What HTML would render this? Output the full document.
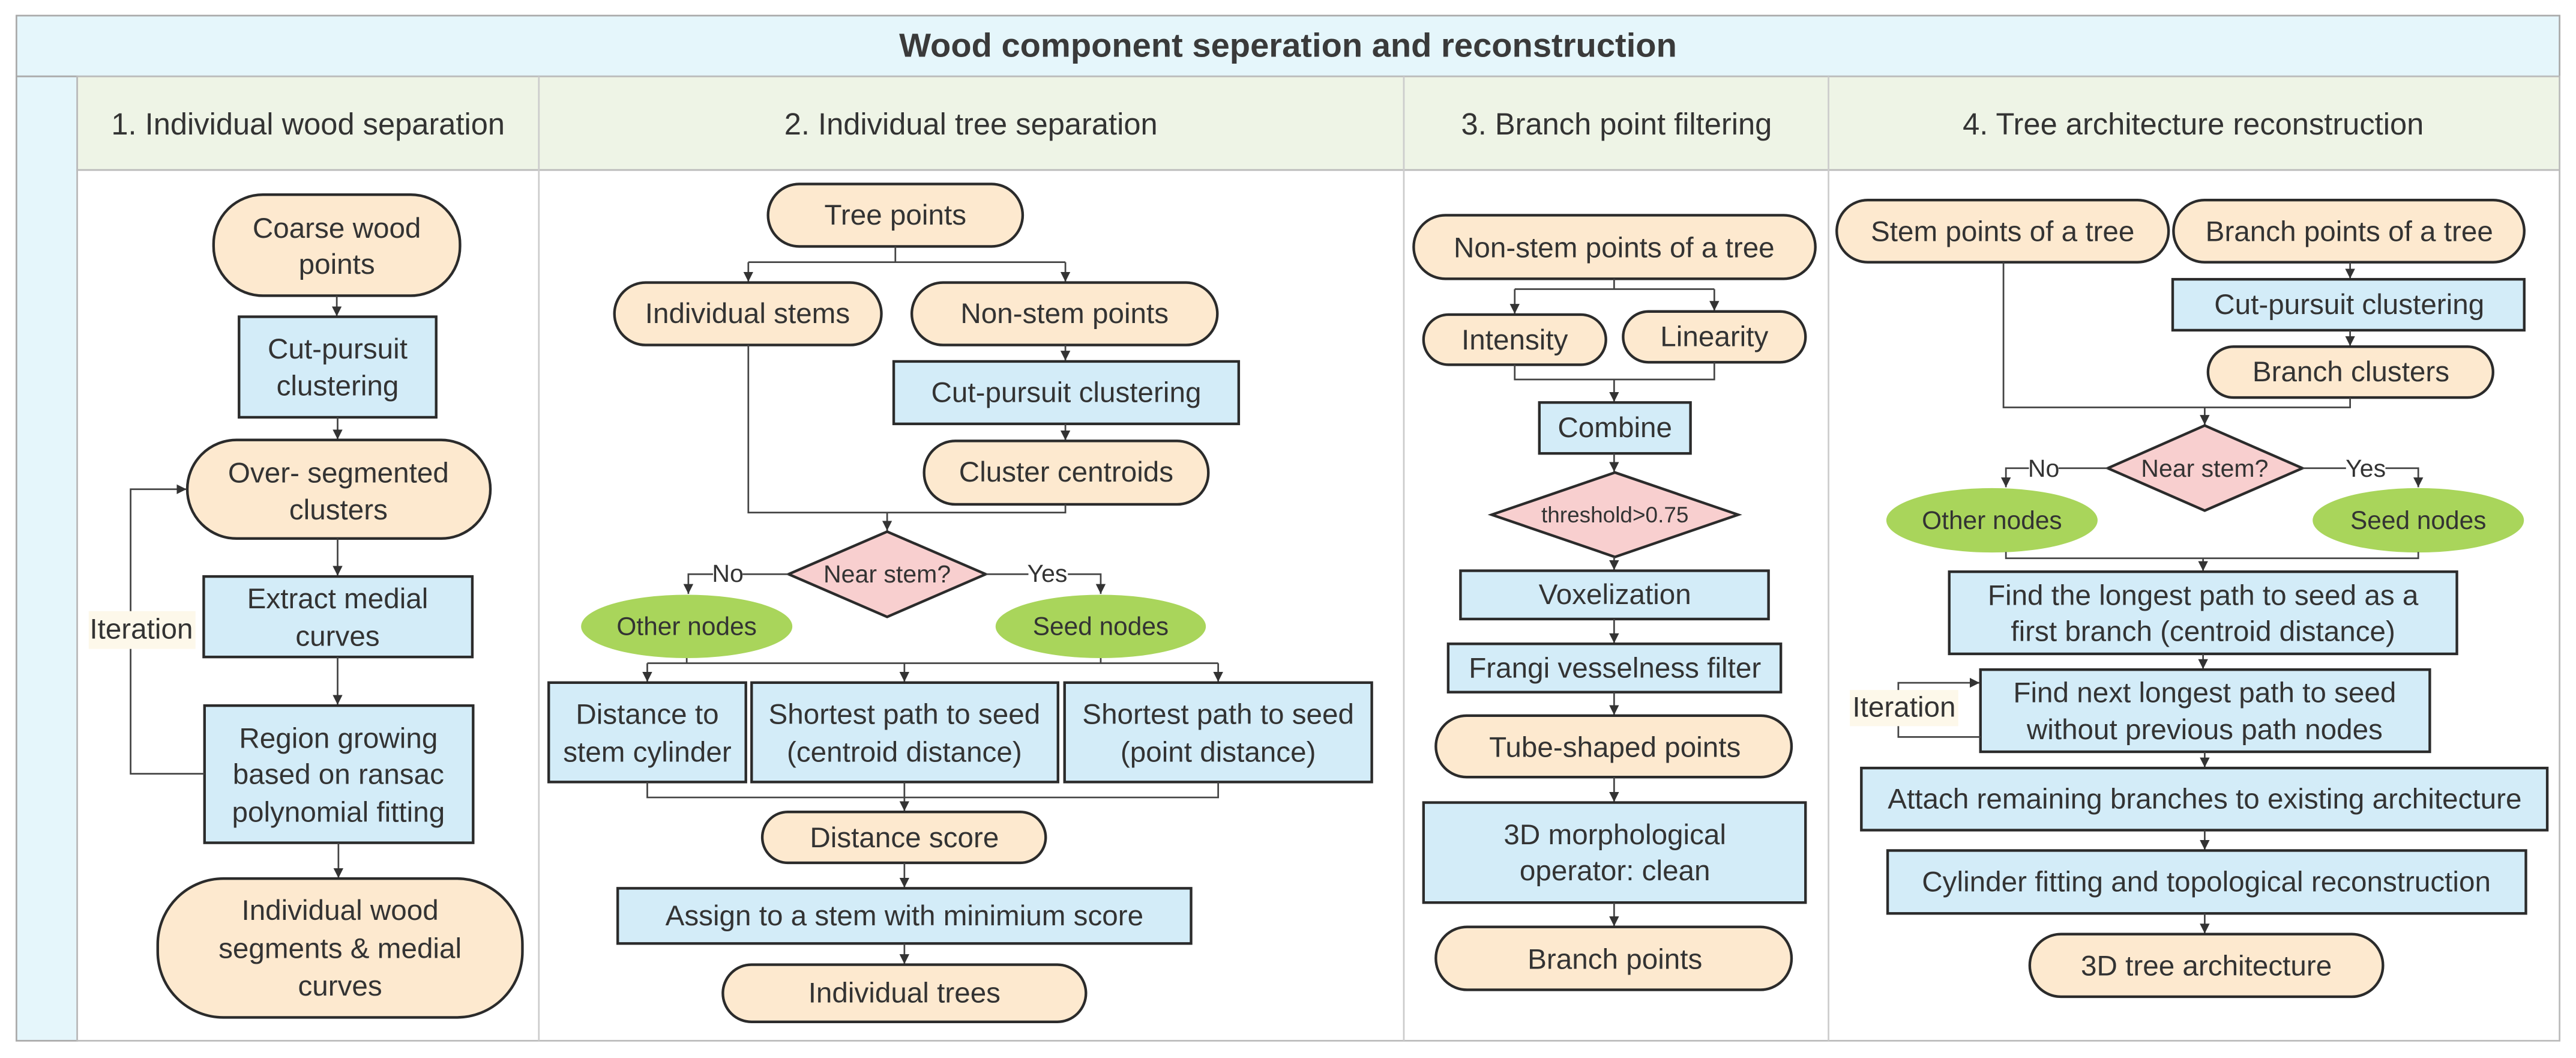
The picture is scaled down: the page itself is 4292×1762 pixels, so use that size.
<!DOCTYPE html>
<html><head><meta charset="utf-8"><style>
html,body{margin:0;padding:0;background:#fff;}
svg{display:block;}
text{font-family:"Liberation Sans",Arial,sans-serif;fill:#333;}
.t{font-size:17.4px;text-anchor:middle;dominant-baseline:central;}
.h{font-size:18.5px;text-anchor:middle;dominant-baseline:central;}
.term{fill:#fde9cf;stroke:#2b2b2b;stroke-width:1.6;}
.box{fill:#d3ecf8;stroke:#2b2b2b;stroke-width:1.6;}
.dia{fill:#f8cfcf;stroke:#2b2b2b;stroke-width:1.6;}
.ell{fill:#a9d55b;stroke:none;}
.ln{fill:none;stroke:#444;stroke-width:1;}
.ar{fill:none;stroke:#444;stroke-width:1;marker-end:url(#a);}
</style></head><body>
<svg width="4292" height="1762" viewBox="0 0 1568 644" preserveAspectRatio="none" xmlns="http://www.w3.org/2000/svg">
<defs><marker id="a" markerUnits="userSpaceOnUse" markerWidth="7" markerHeight="8" refX="6" refY="4" orient="auto"><path d="M0,1 L6,4 L0,7 z" fill="#333"/></marker></defs>
<rect x="0" y="0" width="1568" height="644" fill="#fff"/>
<rect x="10" y="9.5" width="1548" height="37" fill="#e5f6fb" stroke="#aaa" stroke-width="1"/>
<rect x="10" y="46.5" width="37" height="587" fill="#e5f6fb" stroke="#aaa" stroke-width="1"/>
<rect x="47" y="46.5" width="1511" height="57" fill="#eef4e6" stroke="#bbb" stroke-width="1"/>
<rect x="47" y="103.5" width="1511" height="530" fill="#fff" stroke="#bbb" stroke-width="1"/>
<line x1="328" y1="46.5" x2="328" y2="633.5" stroke="#ccc"/>
<line x1="854.5" y1="46.5" x2="854.5" y2="633.5" stroke="#ccc"/>
<line x1="1113" y1="46.5" x2="1113" y2="633.5" stroke="#ccc"/>
<text x="784" y="27.5" style="font-size:20.5px;font-weight:bold;text-anchor:middle;dominant-baseline:central;fill:#3a3a3a">Wood component seperation and reconstruction</text>
<text class="h" x="187.5" y="75.5">1. Individual wood separation</text>
<text class="h" x="591" y="75.5">2. Individual tree separation</text>
<text class="h" x="984" y="75.5">3. Branch point filtering</text>
<text class="h" x="1335" y="75.5">4. Tree architecture reconstruction</text>

<rect class="term" x="130" y="118.5" width="150" height="61.5" rx="30" ry="30"/>
<text class="t" x="205" y="139">Coarse wood</text><text class="t" x="205" y="161">points</text>
<line class="ar" x1="205" y1="180" x2="205" y2="192.5"/>
<rect class="box" x="145.5" y="192.8" width="120" height="61.2"/>
<text class="t" x="205.5" y="212.5">Cut-pursuit</text><text class="t" x="205.5" y="235">clustering</text>
<line class="ar" x1="205.5" y1="254" x2="205.5" y2="267.5"/>
<rect class="term" x="114" y="267.8" width="184.5" height="60" rx="30" ry="30"/>
<text class="t" x="206" y="288">Over- segmented</text><text class="t" x="206" y="310.5">clusters</text>
<line class="ar" x1="205.5" y1="327.8" x2="205.5" y2="350.5"/>
<rect class="box" x="124" y="350.9" width="163.5" height="49"/>
<text class="t" x="205.5" y="364.5">Extract medial</text><text class="t" x="205.5" y="387.5">curves</text>
<line class="ar" x1="205.5" y1="399.8" x2="205.5" y2="429"/>
<rect class="box" x="124.5" y="429.5" width="163.5" height="83.5"/>
<text class="t" x="206" y="449.5">Region growing</text><text class="t" x="206" y="471.5">based on ransac</text><text class="t" x="206" y="494.5">polynomial fitting</text>
<line class="ar" x1="206" y1="513" x2="206" y2="534.5"/>
<rect class="term" x="96" y="534.8" width="222" height="84.5" rx="40" ry="40"/>
<text class="t" x="207" y="554.3">Individual wood</text><text class="t" x="207" y="577.4">segments &amp; medial</text><text class="t" x="207" y="600.4">curves</text>
<path class="ar" d="M124.5,471 H79.5 V297.8 H113.5"/>
<rect x="54" y="372" width="65" height="23" fill="#fdf8ea"/>
<text class="t" x="86" y="383">Iteration</text>

<rect class="term" x="467.5" y="112" width="155" height="38" rx="19" ry="19"/>
<text class="t" x="545" y="131">Tree points</text>
<path class="ln" d="M545,150 V159.6"/>
<path class="ln" d="M455.5,159.6 H648.5"/>
<line class="ar" x1="455.5" y1="159.6" x2="455.5" y2="171.5"/>
<line class="ar" x1="648.5" y1="159.6" x2="648.5" y2="171.5"/>
<rect class="term" x="374" y="172" width="162.5" height="38" rx="19" ry="19"/>
<text class="t" x="455" y="191">Individual stems</text>
<rect class="term" x="555" y="172" width="186" height="38" rx="19" ry="19"/>
<text class="t" x="648" y="191">Non-stem points</text>
<line class="ar" x1="648.5" y1="210" x2="648.5" y2="219.5"/>
<rect class="box" x="544" y="220" width="210" height="38"/>
<text class="t" x="649" y="239">Cut-pursuit clustering</text>
<line class="ar" x1="648.5" y1="258" x2="648.5" y2="268"/>
<rect class="term" x="562.5" y="268.4" width="173" height="38.6" rx="19" ry="19"/>
<text class="t" x="649" y="287.5">Cluster centroids</text>
<path class="ln" d="M455.5,210 V312 H648.5 V307"/>
<line class="ar" x1="540" y1="312" x2="540" y2="323"/>
<polygon class="dia" points="540,323.6 600,349.5 540,375.5 480,349.5"/>
<text x="540" y="349.5" style="font-size:15px;text-anchor:middle;dominant-baseline:central">Near stem?</text>
<path class="ar" d="M480,349.5 H419 V361.5"/>
<rect x="434" y="341" width="18" height="16" fill="#fff"/>
<text x="443" y="349" style="font-size:15px;text-anchor:middle;dominant-baseline:central">No</text>
<path class="ar" d="M600,349.5 H670 V361.5"/>
<rect x="626" y="341" width="24" height="16" fill="#fff"/>
<text x="637.5" y="349" style="font-size:15px;text-anchor:middle;dominant-baseline:central">Yes</text>
<ellipse class="ell" cx="418" cy="381.3" rx="64.3" ry="19.3"/>
<text x="418" y="381.3" style="font-size:15.5px;text-anchor:middle;dominant-baseline:central">Other nodes</text>
<ellipse class="ell" cx="670" cy="381.3" rx="64" ry="19.3"/>
<text x="670" y="381.3" style="font-size:15.5px;text-anchor:middle;dominant-baseline:central">Seed nodes</text>
<path class="ln" d="M418,400.6 V403.7 M670,400.6 V403.7 M394,403.7 H741.5"/>
<line class="ar" x1="394" y1="403.7" x2="394" y2="415"/>
<line class="ar" x1="550.5" y1="403.7" x2="550.5" y2="415"/>
<line class="ar" x1="741.5" y1="403.7" x2="741.5" y2="415"/>
<rect class="box" x="334" y="415.5" width="120" height="60.5"/>
<text class="t" x="394" y="435">Distance to</text><text class="t" x="394" y="458">stem cylinder</text>
<rect class="box" x="457.5" y="415.5" width="186.5" height="60.5"/>
<text class="t" x="550.5" y="435">Shortest path to seed</text><text class="t" x="550.5" y="458">(centroid distance)</text>
<rect class="box" x="648" y="415.5" width="187" height="60.5"/>
<text class="t" x="741.5" y="435">Shortest path to seed</text><text class="t" x="741.5" y="458">(point distance)</text>
<path class="ln" d="M394,476 V485.4 H741.5 V476 M550.5,476 V485.4"/>
<line class="ar" x1="550.5" y1="485.4" x2="550.5" y2="493.7"/>
<rect class="term" x="464" y="494.2" width="172.5" height="31" rx="15.5" ry="15.5"/>
<text class="t" x="550.5" y="510">Distance score</text>
<line class="ar" x1="550.5" y1="525.2" x2="550.5" y2="540.3"/>
<rect class="box" x="376" y="540.7" width="349" height="33.6"/>
<text class="t" x="550.5" y="557.5">Assign to a stem with minimium score</text>
<line class="ar" x1="550.5" y1="574.3" x2="550.5" y2="586.8"/>
<rect class="term" x="440" y="587.2" width="221" height="34.8" rx="17.4" ry="17.4"/>
<text class="t" x="550.5" y="604.6">Individual trees</text>

<rect class="term" x="860.5" y="131" width="244.5" height="38.7" rx="19.3" ry="19.3"/>
<text class="t" x="982.5" y="151">Non-stem points of a tree</text>
<path class="ln" d="M982.5,169.7 V176 M922,176 H1043.5"/>
<line class="ar" x1="922" y1="176" x2="922" y2="191"/>
<line class="ar" x1="1043.5" y1="176" x2="1043.5" y2="189.2"/>
<rect class="term" x="866.5" y="191.5" width="111" height="30.5" rx="15.2" ry="15.2"/>
<text class="t" x="922" y="207">Intensity</text>
<rect class="term" x="988" y="189.6" width="111" height="30.9" rx="15.4" ry="15.4"/>
<text class="t" x="1043.5" y="205">Linearity</text>
<path class="ln" d="M922,222 V231 H1043.5 V220.5"/>
<line class="ar" x1="982.5" y1="231" x2="982.5" y2="244.6"/>
<rect class="box" x="937" y="245" width="92" height="31"/>
<text class="t" x="983" y="260.5">Combine</text>
<line class="ar" x1="982.5" y1="276" x2="982.5" y2="287.2"/>
<polygon class="dia" points="983,287.6 1058,313.3 983,339 908,313.3"/>
<text x="983" y="313.5" style="font-size:13.5px;text-anchor:middle;dominant-baseline:central">threshold&gt;0.75</text>
<line class="ar" x1="982.5" y1="339" x2="982.5" y2="347"/>
<rect class="box" x="889" y="347.4" width="187.5" height="29.4"/>
<text class="t" x="983" y="362">Voxelization</text>
<line class="ar" x1="982.5" y1="376.8" x2="982.5" y2="391.5"/>
<rect class="box" x="881.5" y="391.9" width="202.5" height="29.4"/>
<text class="t" x="983" y="406.8">Frangi vesselness filter</text>
<line class="ar" x1="982.5" y1="421.3" x2="982.5" y2="435.2"/>
<rect class="term" x="874" y="435.6" width="216.5" height="37.4" rx="18.7" ry="18.7"/>
<text class="t" x="983" y="455">Tube-shaped points</text>
<line class="ar" x1="982.5" y1="473" x2="982.5" y2="488.1"/>
<rect class="box" x="866.5" y="488.5" width="232.5" height="60.9"/>
<text class="t" x="983" y="508.2">3D morphological</text><text class="t" x="983" y="530.2">operator: clean</text>
<line class="ar" x1="982.5" y1="549.4" x2="982.5" y2="563.8"/>
<rect class="term" x="874" y="564.2" width="216.5" height="38.3" rx="19" ry="19"/>
<text class="t" x="983" y="584">Branch points</text>

<rect class="term" x="1118" y="121.8" width="202" height="37.8" rx="18.9" ry="18.9"/>
<text class="t" x="1219" y="141">Stem points of a tree</text>
<rect class="term" x="1323" y="121.8" width="213.5" height="37.8" rx="18.9" ry="18.9"/>
<text class="t" x="1430" y="141">Branch points of a tree</text>
<line class="ar" x1="1430.5" y1="159.6" x2="1430.5" y2="169.6"/>
<rect class="box" x="1322.5" y="170" width="214" height="31"/>
<text class="t" x="1430" y="185.5">Cut-pursuit clustering</text>
<line class="ar" x1="1430.5" y1="201" x2="1430.5" y2="210.6"/>
<rect class="term" x="1344" y="211" width="173.5" height="31" rx="15.5" ry="15.5"/>
<text class="t" x="1431" y="226.5">Branch clusters</text>
<path class="ln" d="M1219.5,159.6 V248 H1430.5 V242"/>
<line class="ar" x1="1342" y1="248" x2="1342" y2="258.6"/>
<polygon class="dia" points="1342,259 1401.5,285 1342,310.8 1283,285"/>
<text x="1342" y="285" style="font-size:15px;text-anchor:middle;dominant-baseline:central">Near stem?</text>
<path class="ar" d="M1283,285 H1221 V296.6"/>
<rect x="1235" y="277" width="18" height="16" fill="#fff"/>
<text x="1244" y="285" style="font-size:15px;text-anchor:middle;dominant-baseline:central">No</text>
<path class="ar" d="M1401.5,285 H1472 V296.6"/>
<rect x="1428" y="277" width="24" height="16" fill="#fff"/>
<text x="1440" y="285" style="font-size:15px;text-anchor:middle;dominant-baseline:central">Yes</text>
<ellipse class="ell" cx="1212.5" cy="316.7" rx="64.3" ry="19.6"/>
<text x="1212.5" y="316.7" style="font-size:15.5px;text-anchor:middle;dominant-baseline:central">Other nodes</text>
<ellipse class="ell" cx="1472" cy="316.7" rx="64.3" ry="19.6"/>
<text x="1472" y="316.7" style="font-size:15.5px;text-anchor:middle;dominant-baseline:central">Seed nodes</text>
<path class="ln" d="M1221,336 V339.8 H1472 V336"/>
<line class="ar" x1="1341" y1="339.8" x2="1341" y2="347.6"/>
<rect class="box" x="1186.5" y="348" width="309" height="50"/>
<text class="t" x="1341" y="362.5">Find the longest path to seed as a</text><text class="t" x="1341" y="384.5">first branch (centroid distance)</text>
<line class="ar" x1="1341" y1="398" x2="1341" y2="407.2"/>
<rect class="box" x="1205.5" y="407.6" width="273.5" height="50"/>
<text class="t" x="1342" y="421.7">Find next longest path to seed</text><text class="t" x="1342" y="444.3">without previous path nodes</text>
<path class="ar" d="M1205.5,448.6 H1155.5 V415.6 H1205"/>
<rect x="1126" y="420" width="66" height="22" fill="#fdf8ea"/>
<text class="t" x="1159" y="430.6">Iteration</text>
<line class="ar" x1="1342" y1="457.6" x2="1342" y2="467.1"/>
<rect class="box" x="1133" y="467.5" width="417.5" height="37.8"/>
<text class="t" x="1342" y="486.5">Attach remaining branches to existing architecture</text>
<line class="ar" x1="1342" y1="505.3" x2="1342" y2="517.3"/>
<rect class="box" x="1149" y="517.7" width="388.5" height="38.3"/>
<text class="t" x="1343" y="537">Cylinder fitting and topological reconstruction</text>
<line class="ar" x1="1342" y1="556" x2="1342" y2="568.2"/>
<rect class="term" x="1235.5" y="568.6" width="215" height="38.1" rx="19" ry="19"/>
<text class="t" x="1343" y="588">3D tree architecture</text>
</svg>
</body></html>
